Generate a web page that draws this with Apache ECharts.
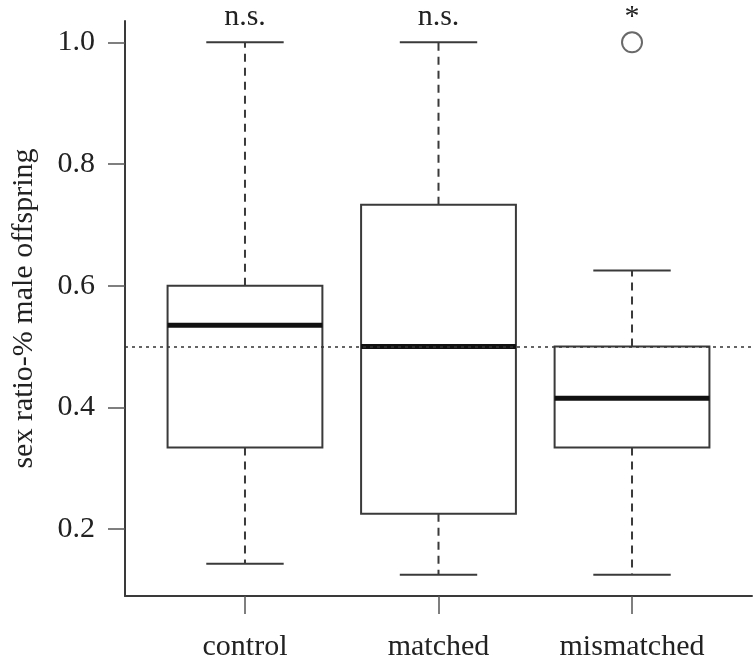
<!DOCTYPE html>
<html>
<head>
<meta charset="utf-8">
<script src="https://cdn.jsdelivr.net/npm/echarts@6/dist/echarts.min.js"></script>
<style>html,body{margin:0;padding:0;background:#fff}#c{width:754px;height:662px}</style>
</head>
<body>
<div id="c"></div>
<script>
var categories = ['control', 'matched', 'mismatched'];
var positions = [1, 2, 3];
var whiskerLow = [0.143, 0.125, 0.125];
var q1 = [0.334, 0.225, 0.334];
var medians = [0.535, 0.500, 0.415];
var q3 = [0.600, 0.733, 0.500];
var whiskerHigh = [1.000, 1.000, 0.625];
var annotations = ['n.s.', 'n.s.', '*'];
var outliers = [[3, 1.0]];
var refLine = 0.5;
var yTicks = [0.2, 0.4, 0.6, 0.8, 1.0];

var FONT = 'Liberation Serif';
var LINE = '#3a3a3a';
var boxData = positions.map(function (p, i) {
  return [p, whiskerLow[i], q1[i], medians[i], q3[i], whiskerHigh[i], i];
});

var chart = echarts.init(document.getElementById('c'));
chart.setOption({
  animation: false,
  backgroundColor: '#fff',
  grid: { left: 125, right: 2, top: 21, bottom: 65, containLabel: false },
  xAxis: {
    type: 'value', min: 0.38, max: 3.62,
    splitLine: { show: false },
    axisLine: { show: true, lineStyle: { color: LINE, width: 2 } },
    axisTick: { show: true, customValues: positions, length: 18, lineStyle: { color: '#555', width: 1.5 } },
    axisLabel: {
      customValues: positions, margin: 36,
      fontFamily: FONT, fontSize: 30, color: '#222',
      formatter: function (v) { return categories[Math.round(v) - 1] || ''; }
    }
  },
  yAxis: {
    type: 'value', min: 0.09, max: 1.035,
    name: 'sex ratio-% male offspring',
    nameLocation: 'middle', nameRotate: 90, nameGap: 86,
    nameTextStyle: { fontFamily: FONT, fontSize: 30, color: '#222' },
    splitLine: { show: false },
    axisLine: { show: true, lineStyle: { color: LINE, width: 2 } },
    axisTick: { show: true, customValues: yTicks, length: 17, lineStyle: { color: '#555', width: 1.5 } },
    axisLabel: {
      customValues: yTicks, margin: 30,
      fontFamily: FONT, fontSize: 30, color: '#222',
      formatter: function (v) { return v.toFixed(1); }
    }
  },
  series: [
    {
      type: 'custom',
      clip: false,
      encode: { x: 0, y: [1, 2, 3, 4, 5] },
      data: boxData,
      markLine: {
        silent: true, symbol: 'none', label: { show: false },
        lineStyle: { color: '#333', width: 1.6, type: [3, 4] },
        data: [{ yAxis: refLine }]
      },
      renderItem: function (params, api) {
        var p = api.value(0);
        var lo = api.coord([p, api.value(1)]);
        var b1 = api.coord([p - 0.4, api.value(2)]);
        var b2 = api.coord([p + 0.4, api.value(4)]);
        var m1 = api.coord([p - 0.4, api.value(3)]);
        var m2 = api.coord([p + 0.4, api.value(3)]);
        var hi = api.coord([p, api.value(5)]);
        var c1 = api.coord([p - 0.2, 0]);
        var c2 = api.coord([p + 0.2, 0]);
        var x = lo[0];
        var idx = api.value(6);
        var solid = { stroke: LINE, lineWidth: 2, fill: null };
        var dashed = { stroke: LINE, lineWidth: 2, lineDash: [8, 6] };
        return {
          type: 'group',
          children: [
            { type: 'line', shape: { x1: x, y1: b2[1], x2: x, y2: hi[1] }, style: dashed },
            { type: 'line', shape: { x1: x, y1: b1[1], x2: x, y2: lo[1] }, style: dashed },
            { type: 'line', shape: { x1: c1[0], y1: hi[1], x2: c2[0], y2: hi[1] }, style: solid },
            { type: 'line', shape: { x1: c1[0], y1: lo[1], x2: c2[0], y2: lo[1] }, style: solid },
            { type: 'rect', shape: { x: b1[0], y: b2[1], width: b2[0] - b1[0], height: b1[1] - b2[1] }, style: solid },
            { type: 'line', shape: { x1: m1[0], y1: m1[1], x2: m2[0], y2: m2[1] }, style: { stroke: '#111', lineWidth: 5 } },
            { type: 'text', x: x, y: 32, style: { text: annotations[idx], fontFamily: FONT, fontSize: 30, fill: '#222', align: 'center', verticalAlign: 'bottom' } }
          ]
        };
      }
    },
    {
      type: 'scatter',
      data: outliers,
      symbol: 'circle',
      symbolSize: 20,
      itemStyle: { color: '#fff', borderColor: '#444', borderWidth: 2 }
    }
  ]
});
</script>
</body>
</html>
